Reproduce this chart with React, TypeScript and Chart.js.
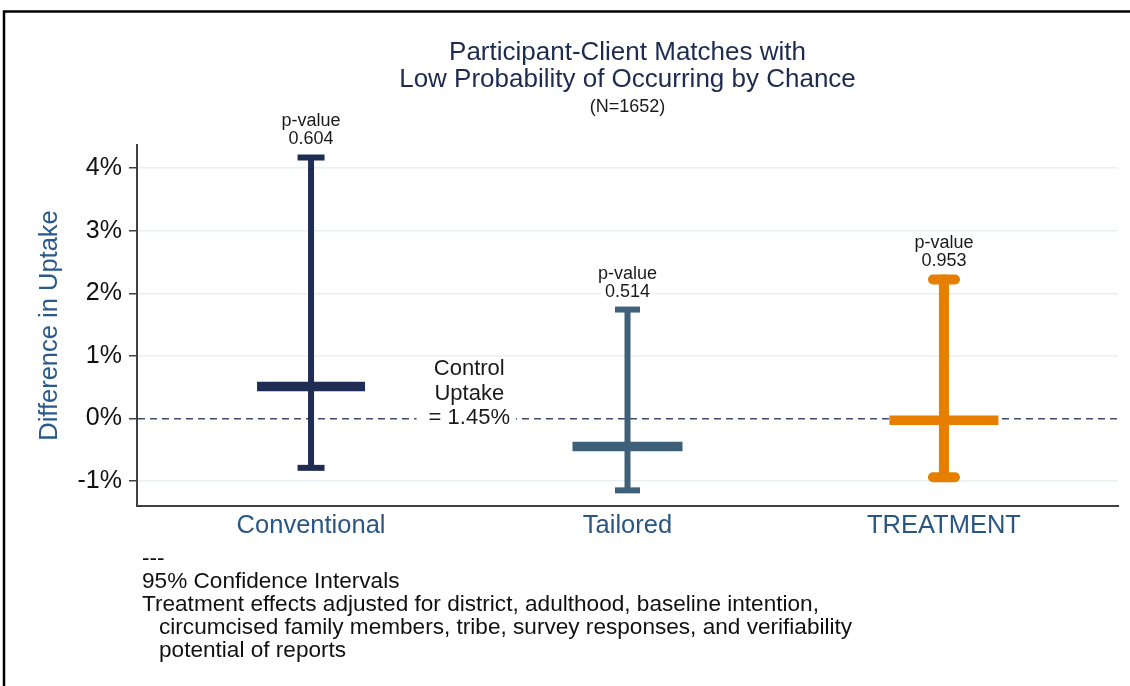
import { useEffect, useRef } from "react";
import { Chart, registerables } from "chart.js";

Chart.register(...registerables);

// ---- data ----
const categories = ["Conventional", "Tailored", "TREATMENT"];
const estimates = [0.51, -0.45, -0.03];
const ciLow = [-0.79, -1.15, -0.94];
const ciHigh = [4.17, 1.74, 2.22];
const pValues = ["0.604", "0.514", "0.953"];
const yTicks = [-1, 0, 1, 2, 3, 4];
const controlUptakeLines = ["Control", "Uptake", "= 1.45%"];
const titleLines = ["Participant-Client Matches with", "Low Probability of Occurring by Chance"];
const subtitleText = "(N=1652)";
const yAxisTitle = "Difference in Uptake";
const footnoteLines = [
  "---",
  "95% Confidence Intervals",
  "Treatment effects adjusted for district, adulthood, baseline intention,",
  "circumcised family members, tribe, survey responses, and verifiability",
  "potential of reports",
];

// ---- styles ----
const colors = ["#1f2d55", "#3e6079", "#e67e00"];
const ciLineWidths = [6, 6, 10];
const capHalfLengths = [13.5, 12.5, 11];
const capThickness = [6, 6, 10];
const roundCaps = [false, false, true];
const estHalfLengths = [54, 55, 54.5];
const estThickness = 9.5;
const footIndent = [0, 0, 0, 17, 17];
const FONT = "'Liberation Sans', Arial, sans-serif";

export default function App() {
  const ref = useRef<HTMLCanvasElement | null>(null);

  useEffect(() => {
    if (!ref.current) return;

    const datasets: any[] = [];
    categories.forEach((_, i) => {
      datasets.push({
        type: "line",
        label: categories[i] + " CI",
        data: [
          { x: i, y: ciLow[i] },
          { x: i, y: ciHigh[i] },
        ],
        borderColor: colors[i],
        backgroundColor: colors[i],
        borderWidth: ciLineWidths[i],
        borderCapStyle: roundCaps[i] ? "round" : "butt",
        pointStyle: "line",
        pointRadius: capHalfLengths[i],
        pointBorderWidth: capThickness[i],
        pointBorderColor: colors[i],
        pointBackgroundColor: colors[i],
        clip: false,
        roundCap: roundCaps[i],
      });
    });
    categories.forEach((_, i) => {
      datasets.push({
        type: "line",
        label: categories[i],
        data: [{ x: i, y: estimates[i] }],
        showLine: false,
        borderColor: colors[i],
        backgroundColor: colors[i],
        pointStyle: "line",
        pointRadius: estHalfLengths[i],
        pointBorderWidth: estThickness,
        pointBorderColor: colors[i],
        clip: false,
        roundCap: false,
      });
    });

    const capPlugin = {
      id: "capStyle",
      beforeDatasetDraw(chart: any, args: any) {
        const ds = chart.data.datasets[args.index];
        chart.ctx.lineCap = ds.roundCap ? "round" : "butt";
      },
      afterDatasetDraw(chart: any) {
        chart.ctx.lineCap = "butt";
      },
    };

    const textBox = (ctx: CanvasRenderingContext2D, text: string, x: number, y: number, padL: number, padR: number, h: number) => {
      const w = ctx.measureText(text).width;
      ctx.fillStyle = "#ffffff";
      ctx.fillRect(x - w / 2 - padL, y - h / 2, w + padL + padR, h);
    };

    const overlay = {
      id: "overlay",
      afterDraw(chart: any) {
        const { ctx, chartArea, scales } = chart;
        const xs = scales.x;
        const ys = scales.y;
        ctx.save();
        // outer frame
        ctx.strokeStyle = "#000000";
        ctx.lineWidth = 2.5;
        ctx.strokeRect(4, 11.5, 1200, 800);

        // title
        const cx = (chartArea.left + chartArea.right) / 2;
        ctx.textAlign = "center";
        ctx.textBaseline = "middle";
        ctx.fillStyle = "#1d2b4f";
        ctx.font = `26px ${FONT}`;
        ctx.fillText(titleLines[0], cx, 53);
        ctx.fillText(titleLines[1], cx, 80);
        ctx.font = `18px ${FONT}`;
        ctx.fillStyle = "#1a1a1a";
        ctx.fillText(subtitleText, cx, 107);

        // p-value labels
        ctx.font = `18px ${FONT}`;
        categories.forEach((_, i) => {
          const x = xs.getPixelForValue(i);
          const yTop = ys.getPixelForValue(ciHigh[i]);
          const y2 = yTop - 18;
          const y1 = yTop - 36;
          textBox(ctx, "p-value", x, y1, 4, 4, 20);
          textBox(ctx, pValues[i], x, y2, 4, 4, 18);
          ctx.fillStyle = "#1a1a1a";
          ctx.fillText("p-value", x, y1);
          ctx.fillText(pValues[i], x, y2);
        });

        // control uptake label
        const lx = xs.getPixelForValue(0.5);
        const ly = ys.getPixelForValue(0);
        ctx.font = `22px ${FONT}`;
        textBox(ctx, controlUptakeLines[2], lx, ly, 12, 6, 20);
        ctx.fillStyle = "#1a1a1a";
        ctx.fillText(controlUptakeLines[0], lx, ly - 49);
        ctx.fillText(controlUptakeLines[1], lx, ly - 24);
        ctx.fillText(controlUptakeLines[2], lx, ly);

        // footnotes
        ctx.textAlign = "left";
        ctx.font = `22.6px ${FONT}`;
        ctx.fillStyle = "#111111";
        footnoteLines.forEach((line, i) => {
          ctx.fillText(line, 142 + footIndent[i], 559 + i * 23);
        });
        ctx.restore();
      },
    };

    const chart = new Chart(ref.current, {
      type: "line",
      data: { datasets },
      plugins: [capPlugin, overlay],
      options: {
        animation: false,
        responsive: false,
        events: [],
        layout: { autoPadding: false, padding: { left: 20, right: 12, top: 145, bottom: 140 } },
        plugins: {
          legend: { display: false },
          tooltip: { enabled: false },
          title: { display: false },
        },
        scales: {
          x: {
            type: "linear",
            min: -0.55,
            max: 2.55,
            afterBuildTicks: (s: any) => {
              s.ticks = categories.map((_, i) => ({ value: i }));
            },
            afterFit: (s: any) => {
              s.height = 40;
            },
            grid: { display: false, drawTicks: false },
            border: { display: true, color: "#404040", width: 2 },
            ticks: {
              padding: 5,
              color: "#2a5683",
              font: { family: FONT, size: 25.5 },
              callback: (v: any) => categories[v as number] ?? "",
            },
          },
          y: {
            type: "linear",
            min: -1.4,
            max: 4.37,
            afterBuildTicks: (s: any) => {
              s.ticks = yTicks.map((v) => ({ value: v }));
            },
            afterFit: (s: any) => {
              s.width = 117;
            },
            grid: {
              color: (c: any) => (c.tick && c.tick.value === 0 ? "#3f4c6e" : "#e9eff2"),
              lineWidth: 1.5,
              tickLength: 8,
              tickColor: "#404040",
              tickWidth: 1.5,
            },
            border: {
              display: true,
              color: "#404040",
              width: 2,
              dash: (c: any) => (c.tick && c.tick.value === 0 ? [7, 5] : []),
            },
            ticks: {
              padding: 7,
              color: "#111111",
              font: { family: FONT, size: 25 },
              callback: (v: any) => `${v}%`,
            },
            title: {
              display: true,
              text: yAxisTitle,
              color: "#2b5a8a",
              font: { family: FONT, size: 25.5 },
              padding: { top: 15, bottom: 0 },
            },
          },
        },
      } as any,
    });

    return () => chart.destroy();
  }, []);

  return (
    <div style={{ position: "absolute", left: 0, top: 0, width: 1130, height: 686, background: "#ffffff" }}>
      <canvas ref={ref} width={1130} height={686} style={{ display: "block" }} />
    </div>
  );
}
